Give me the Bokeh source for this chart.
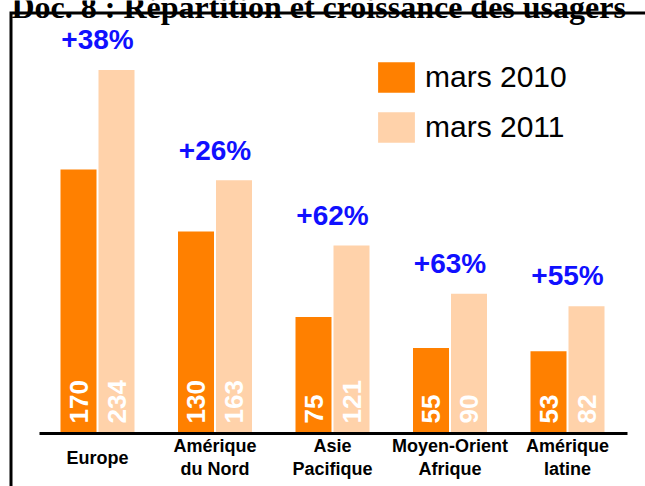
import math
from bokeh.plotting import figure
from bokeh.models import Range1d, FixedTicker, Legend, LegendItem, ColumnDataSource
from bokeh.transform import dodge
from bokeh.core.properties import value
from bokeh.embed import file_html
from bokeh.resources import INLINE

# ---- data ----
regions = ["Europe", "Amérique\ndu Nord", "Asie\nPacifique", "Moyen-Orient\nAfrique", "Amérique\nlatine"]
users_2010 = [170, 130, 75, 55, 53]
users_2011 = [234, 163, 121, 90, 82]
growth_labels = ["+38%", "+26%", "+62%", "+63%", "+55%"]
series_names = ["mars 2010", "mars 2011"]
title_text = "Doc. 8 : Répartition et croissance des usagers"

# ---- layout constants ----
W, H = 645, 486
BASE_PX = 433.0
PX_PER_UNIT = 1.553
GROUP_PX = 117.5
FIRST_PX = 97.0
ORANGE = "#FF8000"
PEACH = "#FFD2AA"
BLUE = "#1010FF"
SANS = "Liberation Sans"


def xd(px):
    return (px - FIRST_PX) / GROUP_PX


def yd(py):
    return (BASE_PX - py) / PX_PER_UNIT


p = figure(width=W, height=H, x_range=Range1d(xd(0), xd(W)), y_range=Range1d(yd(H), yd(0)),
           output_backend="svg", toolbar_location=None, min_border=0,
           y_axis_location=None, x_axis_location="below")
p.grid.visible = False
p.outline_line_color = None
p.background_fill_color = "white"
p.border_fill_color = "white"

idx = list(range(len(regions)))
src = ColumnDataSource(dict(
    x=idx,
    region=regions,
    v2010=users_2010,
    v2011=users_2011,
    t2010=[str(v) for v in users_2010],
    t2011=[str(v) for v in users_2011],
    growth=growth_labels,
    gy=[v + 19.5 for v in users_2011],
))

off = 19 / GROUP_PX
bw = 36 / GROUP_PX

r1 = p.vbar(x=dodge("x", -off, range=p.x_range), top="v2010", bottom=0, width=bw, source=src,
            fill_color=ORANGE, line_color=None)
r2 = p.vbar(x=dodge("x", off, range=p.x_range), top="v2011", bottom=0, width=bw, source=src,
            fill_color=PEACH, line_color=None)

# values inside bars
label_y = yd(423)
for col, o in (("t2010", -off), ("t2011", off)):
    p.text(x=dodge("x", o, range=p.x_range), y=label_y, text=col, source=src, angle=math.pi / 2,
           text_align="left", text_baseline="middle", text_font=value(SANS),
           text_font_style="bold", text_font_size="26px", text_color="white")

# growth labels
p.text(x="x", y="gy", text="growth", source=src, text_align="center", text_baseline="middle",
       text_font=value(SANS), text_font_style="bold", text_font_size="28px", text_color=BLUE)

# category labels under the baseline
p.text(x="x", y=yd(457), text="region", source=src, text_align="center", text_baseline="middle",
       text_font=value(SANS), text_font_style="bold", text_font_size="18px", text_color="black",
       text_line_height=1.17)

# x axis line at the baseline
ax = p.xaxis[0]
ax.fixed_location = 0
ax.ticker = FixedTicker(ticks=[])
ax.bounds = (xd(39), xd(627))
ax.axis_line_color = "black"
ax.axis_line_width = 3
ax.major_tick_line_color = None
ax.minor_tick_line_color = None
ax.major_tick_out = 0
ax.major_tick_in = 0

# frame border (left + top)
p.line(x=[xd(10.5), xd(10.5), xd(660)], y=[yd(500), yd(12.5), yd(12.5)],
       line_color="black", line_width=3, line_join="miter")

# title (partly cut off at the top, as in the source)
p.text(x=[xd(11)], y=[yd(6)], text=[title_text], text_font=value("Liberation Serif"),
       text_font_style="bold", text_font_size="32px", text_color="black",
       text_align="left", text_baseline="alphabetic")

legend = Legend(items=[LegendItem(label=series_names[0], renderers=[r1]),
                       LegendItem(label=series_names[1], renderers=[r2])],
                location=(373, 340), orientation="vertical", glyph_width=46, glyph_height=38,
                label_standoff=6, spacing=12, padding=0, margin=0, label_height=38,
                border_line_color=None, background_fill_alpha=0,
                label_text_font=SANS, label_text_font_size="30px", label_text_color="black")
p.add_layout(legend)

open("out.html", "w").write(file_html(p, INLINE))
